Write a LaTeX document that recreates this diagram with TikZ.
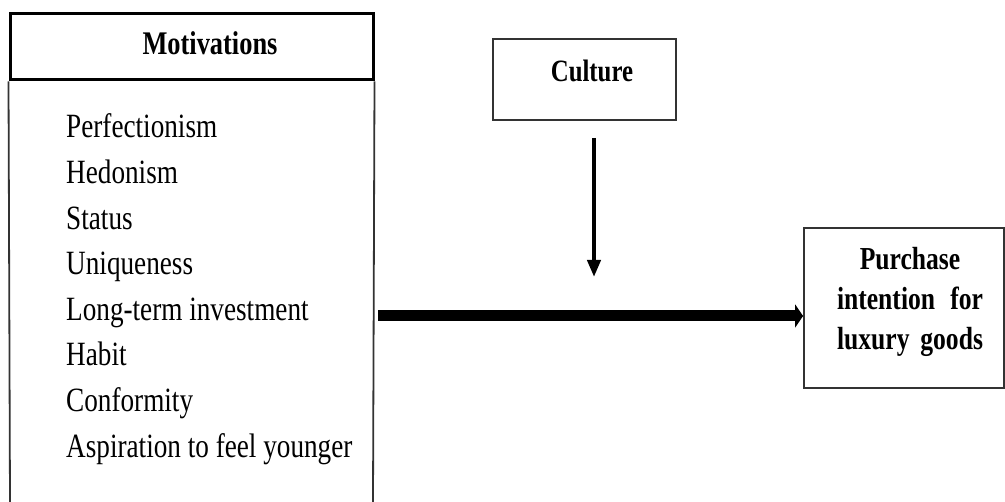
\documentclass[tikz,border=0pt]{standalone}
\usepackage{fontspec}
\setmainfont{Liberation Serif}[FakeStretch=0.8]
\usetikzlibrary{arrows.meta,positioning}

\tikzset{
  box/.style={draw=black!80, line width=1.8pt, inner sep=0pt},
  itemtext/.style={anchor=base west, inner sep=0pt, font=\fontsize{34}{40}\selectfont},
  titletext/.style={anchor=base, inner sep=0pt, font=\fontsize{31}{40}\selectfont\bfseries},
  modarrow/.style={line width=4pt, -{Triangle[width=13pt,length=17pt]}},
  mainarrow/.style={line width=11pt, -{Triangle[width=23pt,length=8pt]}},
}

\begin{document}
\begin{tikzpicture}[x=1pt,y=-1pt]
    \useasboundingbox (0,0) rectangle (1005,502);

    % Motivations
    \node[box, draw=black, line width=3pt, minimum width=363pt, minimum height=66pt] (motiv) at (191.5,47) {};
    \node[titletext, font=\fontsize{33}{40}\selectfont\bfseries] (motivtitle) at (210,55) {Motivations};
    \draw[black!80, line width=1.8pt] (motiv.south west) -- (10,502) (motiv.south east) -- (373,502);
    \foreach \txt [count=\i] in {Perfectionism, Hedonism, Status, Uniqueness,
        Long-term investment, Habit, Conformity, Aspiration to feel younger}
        \node[itemtext] (m\i) at (66, {138+45.6*(\i-1)}) {\txt};

    % Culture
    \node[box, minimum width=183pt, minimum height=81pt] (culture) at (584.5,79.5) {};
    \node[titletext] (culturetxt) at (592,82) {Culture};

    % Purchase intention
    \node[box, minimum width=200pt, minimum height=160pt] (purchase) at (904,308) {};
    \node[titletext, anchor=center, text width=146pt, align=center,
        font=\fontsize{32}{40}\selectfont\bfseries] (purchasetxt) at (910,302)
        {Purchase\\ \makebox[146pt]{intention\hfill for}\\ \makebox[146pt]{luxury\hfill goods}};

    % Arrows
    \coordinate (modtop) at (594,138);
    \coordinate (modend) at (594,277);
    \draw[modarrow] (modtop) -- (modend);
    \coordinate (mainstart) at (378,316);
    \draw[mainarrow] (mainstart) -- (purchase.west |- mainstart);
\end{tikzpicture}
\end{document}
